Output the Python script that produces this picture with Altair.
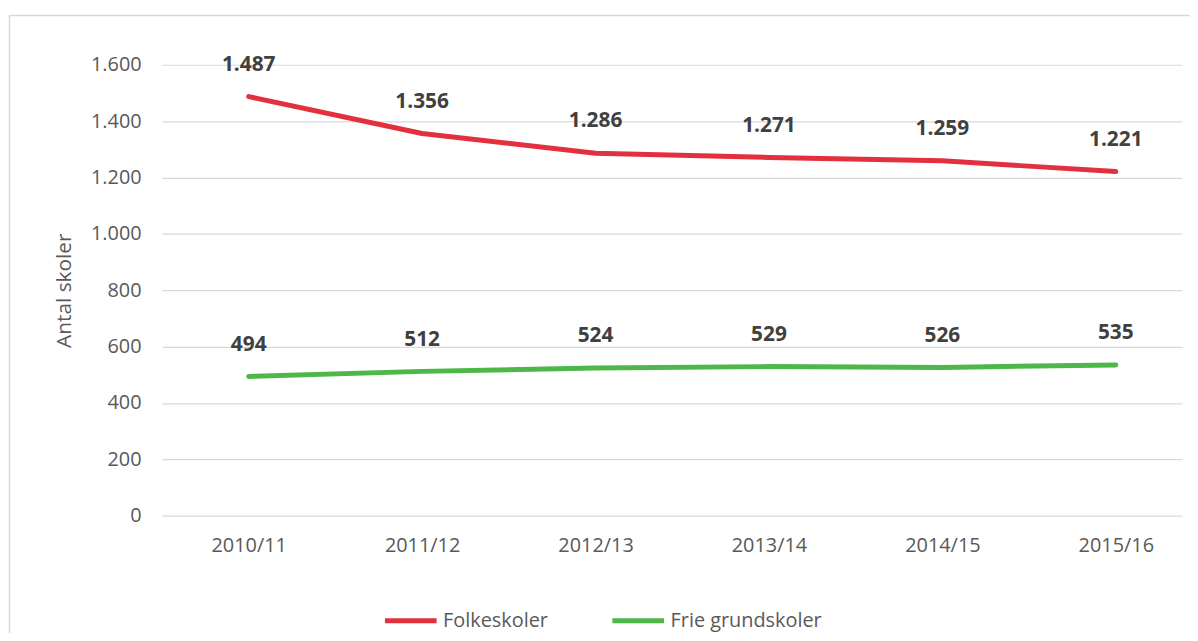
import altair as alt
import pandas as pd

years = ["2010/11", "2011/12", "2012/13", "2013/14", "2014/15", "2015/16"]
folkeskoler = [1487, 1356, 1286, 1271, 1259, 1221]
frie = [494, 512, 524, 529, 526, 535]
series = ["Folkeskoler", "Frie grundskoler"]
colors = ["#E3303E", "#4DB748"]
y_ticks = [0, 200, 400, 600, 800, 1000, 1200, 1400, 1600]

rows = []
for y, v in zip(years, folkeskoler):
    rows.append({"year": y, "value": v, "series": series[0]})
for y, v in zip(years, frie):
    rows.append({"year": y, "value": v, "series": series[1]})
df = pd.DataFrame(rows)

FONT = "Open Sans"
W, H = 1027, 454

x_enc = alt.X(
    "year:N",
    sort=years,
    scale=alt.Scale(type="point", padding=0.441, align=0.567),
    axis=alt.Axis(
        title=None, labelFontSize=20, labelColor="#595959", labelFont=FONT,
        ticks=False, domain=False, grid=False, labelPadding=20, labelAngle=0,
    ),
)
y_enc = alt.Y(
    "value:Q",
    scale=alt.Scale(domain=[0, 1600], nice=False),
    axis=alt.Axis(
        values=y_ticks, title="Antal skoler", titleFontSize=21, titleFont=FONT,
        titleFontWeight="normal", titleColor="#595959", titlePadding=16,
        labelFontSize=20, labelColor="#595959", labelFont=FONT, labelPadding=21,
        ticks=False, domain=False, grid=True, gridColor="#D9D9D9", gridWidth=1.2,
        labelExpr="replace(format(datum.value, ',d'), ',', '.')",
    ),
)
color_enc = alt.Color(
    "series:N",
    scale=alt.Scale(domain=series, range=colors),
    legend=alt.Legend(
        title=None, orient="none", legendX=222, legendY=531, direction="horizontal",
        symbolType="stroke", symbolSize=2704, symbolStrokeWidth=5,
        labelFontSize=20, labelColor="#595959", labelFont=FONT, labelOffset=4,
        columnPadding=54,
    ),
)

lines = alt.Chart(df).mark_line(strokeWidth=5, strokeCap="round", strokeJoin="round").encode(
    x=x_enc, y=y_enc, color=color_enc
)

labels = alt.Chart(df).transform_calculate(
    lbl="replace(format(datum.value, ',d'), ',', '.')"
).mark_text(
    dy=-32, baseline="middle", align="center", fontSize=21, fontWeight="bold",
    font=FONT, color="#404040",
).encode(x=alt.X("year:N", sort=years), y="value:Q", text="lbl:N")

border = alt.Chart(pd.DataFrame({"a": [0]})).mark_rect(
    fill=None, stroke="#D9D9D9", strokeWidth=1.5
).encode(
    x=alt.value(-153.5), x2=alt.value(1200), y=alt.value(-49.5), y2=alt.value(800)
)

chart = alt.layer(border, lines, labels).properties(
    width=W, height=H,
    padding={"left": 155, "top": 55, "right": 8, "bottom": 116},
    autosize=alt.AutoSizeParams(type="none"),
    background="white",
).configure_view(stroke=None)

chart.save("out.html", embed_options={"renderer": "svg", "actions": False})
